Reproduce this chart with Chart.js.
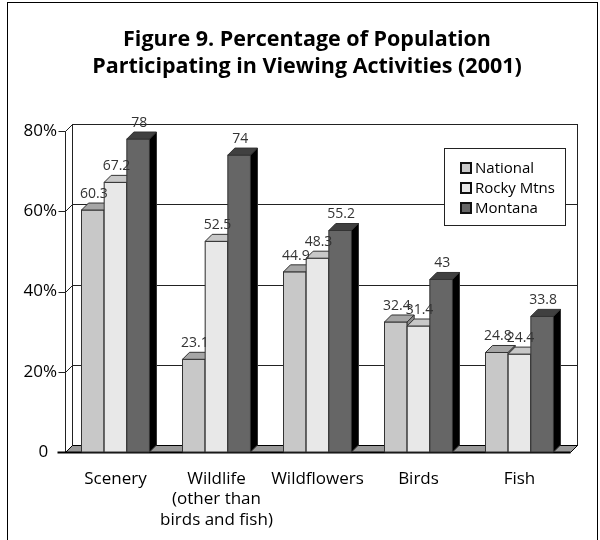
<!DOCTYPE html>
<html>
<head>
<meta charset="utf-8">
<script src="https://cdn.jsdelivr.net/npm/chart.js@4.4.0/dist/chart.umd.min.js"></script>
<style>
  html, body { margin: 0; padding: 0; background: #fff; }
  #wrap { width: 600px; height: 540px; position: relative; }
</style>
</head>
<body>
<div id="wrap"><canvas id="mycanvas" width="600" height="540"></canvas></div>
<script>
var titleLines = ['Figure 9. Percentage of Population', 'Participating in Viewing Activities (2001)'];
var categories = ['Scenery', ['Wildlife', '(other than', 'birds and fish)'], 'Wildflowers', 'Birds', 'Fish'];
var seriesNames = ['National', 'Rocky Mtns', 'Montana'];
var national = [60.3, 23.1, 44.9, 32.4, 24.8];
var rockyMtns = [67.2, 52.5, 48.3, 31.4, 24.4];
var montana = [78, 74, 55.2, 43, 33.8];
var yTicks = [0, 20, 40, 60, 80];

var fronts = ['#c8c8c8', '#e8e8e8', '#666666'];
var tops = ['#a6a6a6', '#c8c8c8', '#404040'];
var sides = ['#8a8a8a', '#b0b0b0', '#000000'];
var D = 7; // depth of the 3D effect
var FONT = '"Open Sans", "DejaVu Sans", sans-serif';

function poly(ctx, pts, fill) {
  ctx.beginPath();
  ctx.moveTo(pts[0][0], pts[0][1]);
  for (var i = 1; i < pts.length; i++) ctx.lineTo(pts[i][0], pts[i][1]);
  ctx.closePath();
  ctx.fillStyle = fill;
  ctx.fill();
  ctx.stroke();
}

var threeD = {
  id: 'threeD',
  beforeDraw: function(chart) {
    var ctx = chart.ctx;
    ctx.save();
    ctx.strokeStyle = '#000';
    ctx.lineWidth = 1;
    ctx.strokeRect(7.5, 2.5, 590, 600);
    // title
    ctx.fillStyle = '#000';
    ctx.font = 'bold 21.5px ' + FONT;
    ctx.textAlign = 'center';
    ctx.textBaseline = 'middle';
    ctx.fillText(titleLines[0], 307, 40);
    ctx.fillText(titleLines[1], 307, 67);
    ctx.restore();
  },
  beforeDatasetsDraw: function(chart) {
    var ctx = chart.ctx, a = chart.chartArea, y = chart.scales.y;
    var L = Math.round(a.left) + 0.5, R = Math.round(a.right) + 0.5;
    var T = Math.round(a.top) + 0.5, B = Math.round(a.bottom) + 0.5;
    ctx.save();
    ctx.lineWidth = 1;
    ctx.strokeStyle = '#222';
    // back wall
    ctx.fillStyle = '#fff';
    ctx.fillRect(L + D, T - D, R - L, B - T);
    ctx.strokeRect(L + D, T - D, R - L, B - T);
    // left wall
    ctx.beginPath();
    ctx.moveTo(L, B); ctx.lineTo(L, T); ctx.lineTo(L + D, T - D);
    ctx.stroke();
    // gridlines and ticks
    yTicks.forEach(function(v) {
      var py = Math.round(y.getPixelForValue(v)) + 0.5;
      ctx.beginPath();
      ctx.moveTo(L - 7, py); ctx.lineTo(L, py); ctx.lineTo(L + D, py - D);
      if (v > 0 && v < 80) ctx.lineTo(R + D, py - D);
      ctx.stroke();
    });
    // floor
    ctx.strokeStyle = '#000';
    poly(ctx, [[L, B], [R, B], [R + D, B - D], [L + D, B - D]], '#999999');
    ctx.lineWidth = 2;
    ctx.beginPath();
    ctx.moveTo(L - 8, B); ctx.lineTo(R, B);
    ctx.stroke();
    ctx.restore();
  },
  afterDatasetsDraw: function(chart) {
    var ctx = chart.ctx;
    var metas = chart.data.datasets.map(function(ds, i) { return chart.getDatasetMeta(i); });
    ctx.save();
    ctx.lineWidth = 1;
    ctx.strokeStyle = '#333';
    // redraw each group left to right so nearer faces overlap correctly
    for (var j = 0; j < categories.length; j++) {
      for (var i = 0; i < metas.length; i++) {
        var p = metas[i].data[j].getProps(['x', 'y', 'base', 'width'], true);
        var l = p.x - p.width / 2, r = p.x + p.width / 2;
        poly(ctx, [[l, p.y], [r, p.y], [r, p.base], [l, p.base]], fronts[i]);
        poly(ctx, [[l, p.y], [r, p.y], [r + D, p.y - D], [l + D, p.y - D]], tops[i]);
        poly(ctx, [[r, p.y], [r + D, p.y - D], [r + D, p.base - D], [r, p.base]], sides[i]);
      }
    }
    // value labels
    ctx.font = '14px ' + FONT;
    ctx.fillStyle = '#333';
    ctx.textAlign = 'center';
    ctx.textBaseline = 'bottom';
    chart.data.datasets.forEach(function(ds, i) {
      metas[i].data.forEach(function(bar, j) {
        ctx.fillText(String(ds.data[j]), bar.x + 1, bar.y - D - 2);
      });
    });
    ctx.restore();
  },
  afterDraw: function(chart) {
    var ctx = chart.ctx;
    ctx.save();
    ctx.fillStyle = '#fff';
    ctx.strokeStyle = '#222';
    ctx.lineWidth = 1;
    ctx.fillRect(444.5, 148.5, 121, 77);
    ctx.strokeRect(444.5, 148.5, 121, 77);
    ctx.font = '15px ' + FONT;
    ctx.textBaseline = 'middle';
    ctx.textAlign = 'left';
    seriesNames.forEach(function(name, i) {
      var cy = 168 + i * 20;
      ctx.fillStyle = fronts[i];
      ctx.fillRect(461, cy - 5, 10, 10);
      ctx.lineWidth = 2;
      ctx.strokeStyle = '#111';
      ctx.strokeRect(461, cy - 5, 10, 10);
      ctx.fillStyle = '#000';
      ctx.fillText(name, 475, cy + 1);
    });
    ctx.restore();
  }
};

var ctx = document.getElementById('mycanvas');
var chart = new Chart(ctx, {
  type: 'bar',
  data: {
    labels: categories,
    datasets: [
      { label: seriesNames[0], data: national, backgroundColor: fronts[0], borderColor: '#333', borderWidth: 1 },
      { label: seriesNames[1], data: rockyMtns, backgroundColor: fronts[1], borderColor: '#333', borderWidth: 1 },
      { label: seriesNames[2], data: montana, backgroundColor: fronts[2], borderColor: '#333', borderWidth: 1 }
    ]
  },
  options: {
    responsive: false,
    animation: false,
    devicePixelRatio: 1,
    layout: { padding: { left: 0, right: 30, top: 131, bottom: 0 } },
    categoryPercentage: 0.673,
    barPercentage: 1,
    plugins: {
      legend: { display: false },
      tooltip: { enabled: false },
      title: { display: false }
    },
    scales: {
      x: {
        grid: { display: false },
        border: { display: false },
        ticks: { color: '#000', font: { family: FONT, size: 17, lineHeight: 1.2 }, padding: 9, maxRotation: 0, autoSkip: false },
        afterFit: function(s) { s.height = 88; }
      },
      y: {
        min: 0, max: 80,
        grid: { display: false },
        border: { display: false },
        ticks: {
          stepSize: 20,
          color: '#000',
          padding: 0,
          font: { family: FONT, size: 17 },
          callback: function(v) { return v === 0 ? '0  ' : v + '%'; }
        },
        afterFit: function(s) { s.width = 65; }
      }
    }
  },
  plugins: [threeD]
});
</script>
</body>
</html>
